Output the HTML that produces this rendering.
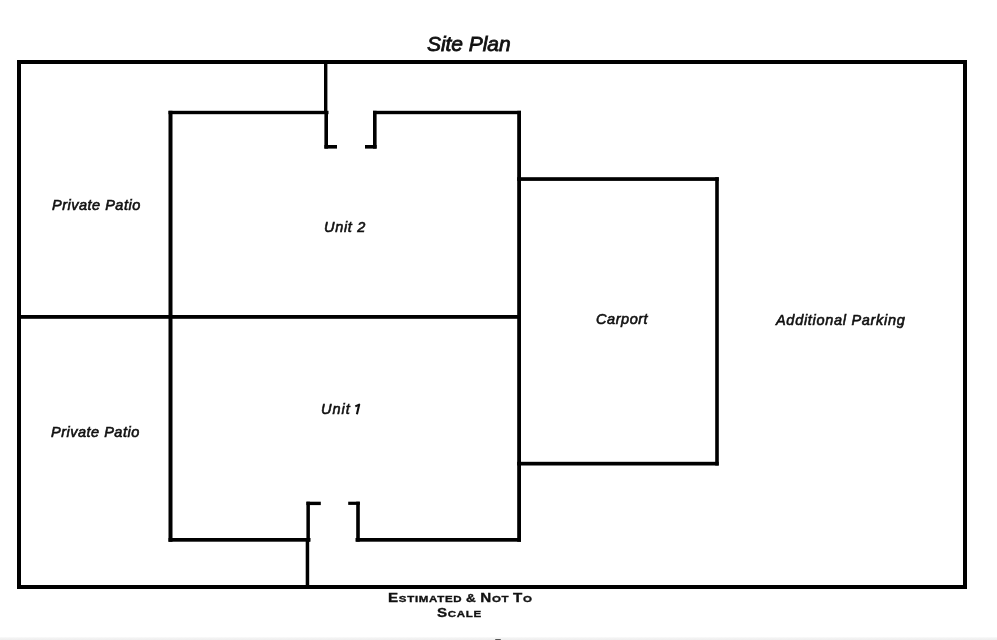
<!DOCTYPE html>
<html><head><meta charset="utf-8">
<style>
html,body{margin:0;padding:0;background:#fff;}
body{width:997px;height:640px;position:relative;overflow:hidden;}
svg{position:absolute;left:0;top:0;}
.t{position:absolute;font-family:"Liberation Sans",sans-serif;font-style:italic;font-weight:normal;-webkit-text-stroke:0.6px #111;color:#111;white-space:nowrap;line-height:1;transform-origin:0 0;will-change:transform;}
.c{position:absolute;font-family:"Liberation Sans",sans-serif;font-weight:bold;color:#111;white-space:nowrap;line-height:1;transform-origin:0 0;transform:scaleX(1.165);font-size:13px;letter-spacing:0.6px;word-spacing:-1px;will-change:transform;-webkit-text-stroke:0.35px #111;}
.c .B{font-size:13px;}
.c .s{font-size:9.9px;}
.band{position:absolute;left:0;top:637px;width:997px;height:3px;background:linear-gradient(#fbfbfb,#f3f3f3 40%,#eeeeee);}
</style></head><body>
<svg width="997" height="640" viewBox="0 0 997 640">
<g fill="#000">
<!-- outer rect -->
<rect x="17" y="60" width="950" height="4"/>
<rect x="17" y="585" width="950" height="4"/>
<rect x="17" y="60" width="4" height="529"/>
<rect x="963" y="60" width="4" height="529"/>
<!-- unit rect -->
<rect x="168.5" y="110.8" width="4" height="431"/>
<rect x="517.2" y="110.8" width="3.8" height="431"/>
<rect x="168.5" y="110.8" width="160" height="3.4"/>
<rect x="373" y="110.8" width="148" height="3.4"/>
<rect x="168.5" y="538" width="142" height="3.7"/>
<rect x="355.5" y="538" width="165.5" height="3.7"/>
<!-- divider -->
<rect x="17" y="315" width="504" height="3.8"/>
<!-- carport -->
<rect x="517.2" y="177.2" width="201.5" height="3.7"/>
<rect x="517.2" y="461.8" width="201.5" height="3.7"/>
<rect x="715.2" y="177.2" width="3.6" height="288.3"/>
<!-- top door -->
<rect x="324" y="60" width="3.4" height="52"/>
<rect x="324.4" y="111" width="3.6" height="37.6"/>
<rect x="324.4" y="145" width="12.6" height="3.6"/>
<rect x="373" y="110.8" width="3.6" height="37.8"/>
<rect x="365" y="145" width="11.6" height="3.6"/>
<!-- bottom door -->
<rect x="306.4" y="501.7" width="3.5" height="40"/>
<rect x="305.7" y="540" width="3.5" height="48.8"/>
<rect x="306.4" y="501.7" width="14.4" height="3.4"/>
<rect x="356.2" y="501.7" width="3.6" height="40"/>
<rect x="348.2" y="501.7" width="11.6" height="3.2"/>
</g>
</svg>
<div class="t" style="left:426.5px;top:33px;font-size:21px;-webkit-text-stroke:0.8px #111;letter-spacing:-0.05px;">Site Plan</div>
<div class="t" style="left:51.5px;top:198px;font-size:14.5px;letter-spacing:0.5px;">Private Patio</div>
<div class="t" style="left:50.8px;top:425px;font-size:14.5px;letter-spacing:0.5px;">Private Patio</div>
<div class="t" style="left:324px;top:220px;font-size:14.5px;letter-spacing:0.7px;">Unit 2</div>
<div class="t" style="left:320.5px;top:402px;font-size:14.5px;letter-spacing:1.0px;">Unit</div>
<svg width="997" height="640" style="position:absolute;left:0;top:0"><path d="M355.3,406.4 L359.2,404.6 L356.9,414.3" fill="none" stroke="#111" stroke-width="2.1" stroke-linejoin="round"/></svg>
<div class="t" style="left:595.5px;top:311.5px;font-size:14.5px;letter-spacing:0.55px;">Carport</div>
<div class="t" style="left:775.5px;top:312.5px;font-size:14.5px;letter-spacing:0.7px;">Additional Parking</div>
<div class="c" style="left:388.3px;top:590.5px;"><span class="B">E</span><span class="s">STIMATED</span> <span class="s" style="font-size:11.5px">&amp;</span> <span class="B">N</span><span class="s">OT</span> <span class="B">T</span><span class="s">O</span></div>
<div class="c" style="left:437.3px;top:606px;"><span class="B">S</span><span class="s">CALE</span></div>
<div class="band"></div>
<div style="position:absolute;left:495px;top:638.6px;width:6px;height:2px;background:#555;border-radius:1px 1px 0 0;"></div>
</body></html>
